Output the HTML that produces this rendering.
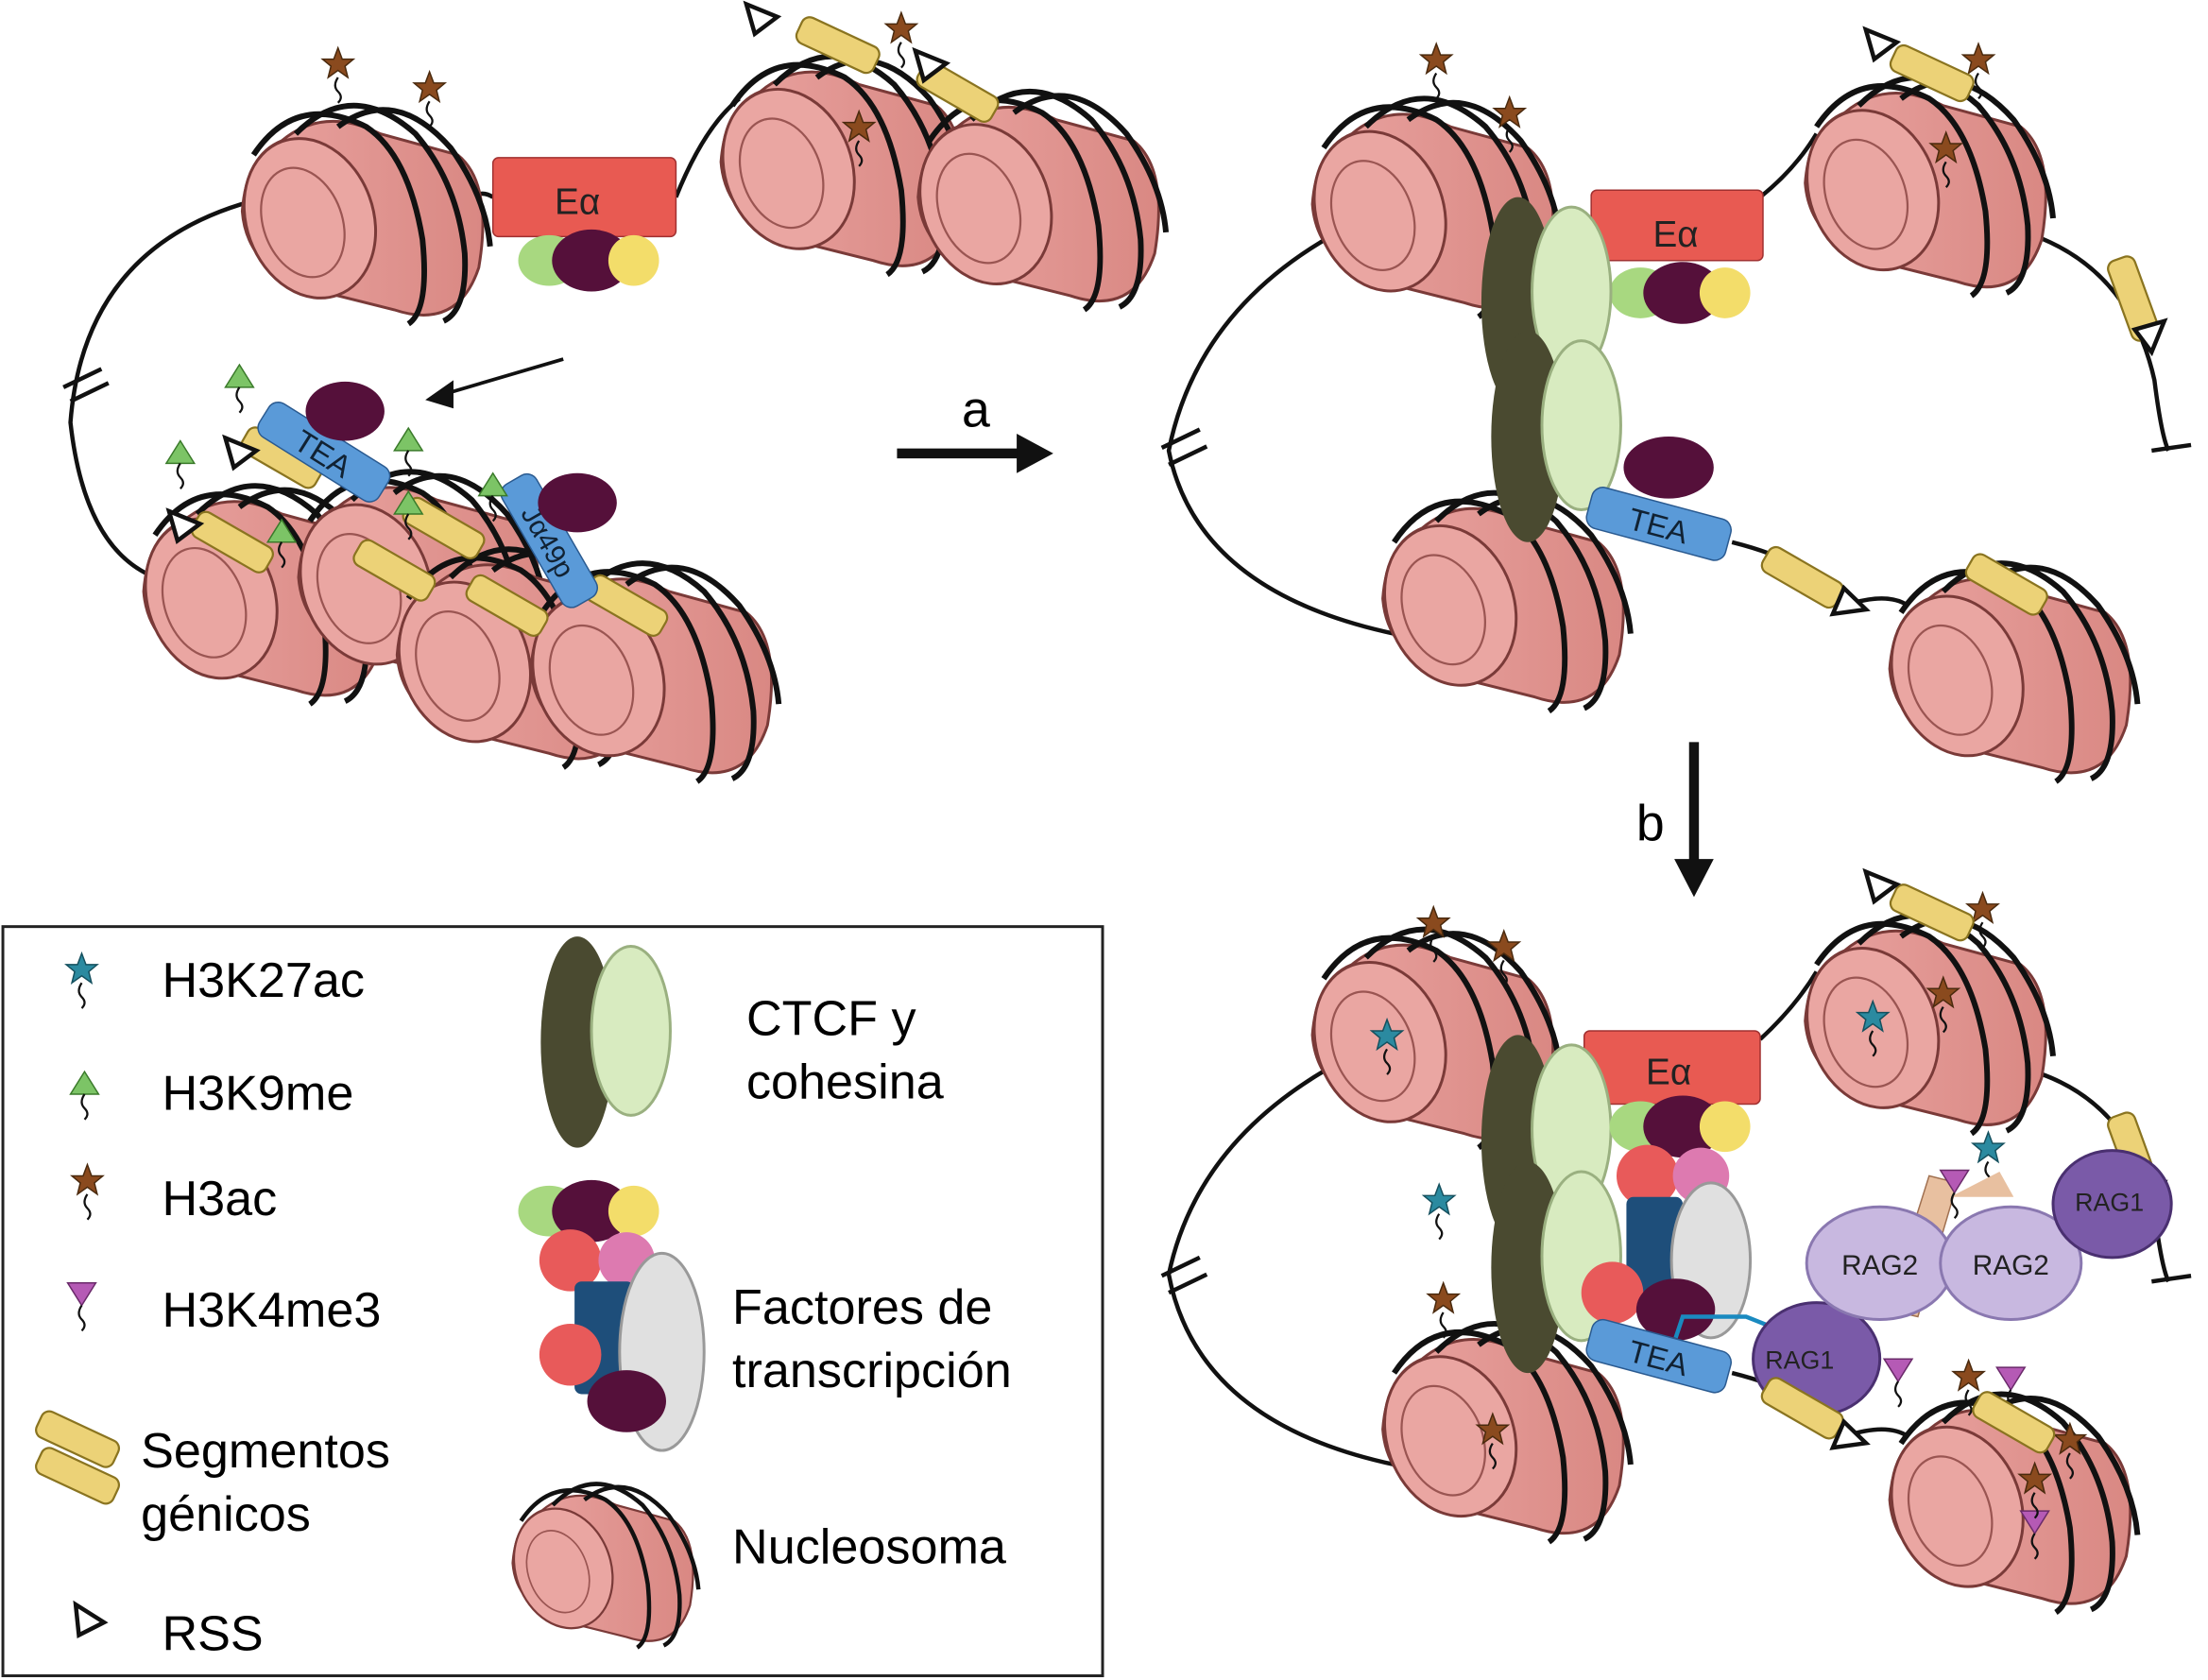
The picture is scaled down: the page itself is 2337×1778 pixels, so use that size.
<!DOCTYPE html>
<html><head><meta charset="utf-8"><style>
html,body{margin:0;padding:0;background:#fff;}
svg{display:block;}
text{font-family:"Liberation Sans",sans-serif;}
</style></head><body>
<svg width="2337" height="1778" viewBox="0 0 1568 1193" xmlns="http://www.w3.org/2000/svg">
<defs>
<linearGradient id="pk" x1="0" x2="1"><stop offset="0" stop-color="#e9a3a0"/><stop offset="1" stop-color="#d98883"/></linearGradient>
<g id="nuc">
  <path d="M-20,-50 Q10,-75 50,-55 L105,-40 Q130,-20 120,40 Q105,85 60,70 L0,55 Q-45,40 -48,0 Q-45,-40 -20,-50Z" fill="url(#pk)" stroke="#7a3a38" stroke-width="2"/>
  <ellipse cx="0" cy="5" rx="45" ry="58" transform="rotate(-20 0 5)" fill="#eaa6a2" stroke="#7a3a38" stroke-width="2"/>
  <ellipse cx="-5" cy="8" rx="28" ry="40" transform="rotate(-20 -5 8)" fill="none" stroke="#9a5552" stroke-width="1.5"/>
  <path d="M-40,-40 Q-10,-85 40,-60 Q70,-40 80,20 Q85,70 70,80" fill="none" stroke="#111" stroke-width="4"/>
  <path d="M-10,-55 Q30,-95 75,-55 Q105,-20 110,30 Q112,70 95,78" fill="none" stroke="#111" stroke-width="4"/>
  <path d="M20,-60 Q60,-90 100,-45 Q125,-10 128,25" fill="none" stroke="#111" stroke-width="4"/>
</g>
<g id="seg"><rect x="-30" y="-10" width="60" height="20" rx="6" fill="#ecd277" stroke="#8a7420" stroke-width="1.5"/></g>
<g id="rss"><polygon points="-10,-9 12,0 -4,12" fill="#fff" stroke="#111" stroke-width="3"/></g>
<g id="star"><polygon points="0,-11 3,-3 11,-3 5,2 7,10 0,5 -7,10 -5,2 -11,-3 -3,-3" fill="#8a4a1e" stroke="#4a2a0e" stroke-width="1"/><path d="M0,10 q-4,6 0,10 q4,4 0,8" fill="none" stroke="#111" stroke-width="1.5"/></g>
<g id="bstar"><polygon points="0,-11 3,-3 11,-3 5,2 7,10 0,5 -7,10 -5,2 -11,-3 -3,-3" fill="#2b8aa0" stroke="#15505e" stroke-width="1"/><path d="M0,10 q-4,6 0,10 q4,4 0,8" fill="none" stroke="#111" stroke-width="1.5"/></g>
<g id="gtri"><polygon points="0,-9 10,7 -10,7" fill="#7cc466" stroke="#3a7a2a"/><path d="M0,7 q-4,6 0,10 q4,4 0,8" fill="none" stroke="#111" stroke-width="1.5"/></g>
<g id="ptri"><polygon points="-10,-7 10,-7 0,9" fill="#b55ab5" stroke="#6a2a6a"/><path d="M0,9 q-4,6 0,10 q4,4 0,8" fill="none" stroke="#111" stroke-width="1.5"/></g>
<g id="ctcf"><ellipse cx="0" cy="0" rx="26" ry="75" fill="#4a4a30"/><ellipse cx="38" cy="-8" rx="28" ry="60" fill="#d8ebc0" stroke="#9ab080" stroke-width="2"/></g>
<g id="tf3"><ellipse cx="-30" cy="0" rx="22" ry="18" fill="#a8d880"/><ellipse cx="0" cy="0" rx="28" ry="22" fill="#55103a"/><circle cx="30" cy="0" r="18" fill="#f3dd6a"/></g>
</defs>

<!-- TOP LEFT PANEL -->
<path d="M190,140 Q60,170 50,300 Q60,390 110,410" fill="none" stroke="#111" stroke-width="3"/>
<path d="M320,160 Q335,130 350,140" fill="none" stroke="#111" stroke-width="3"/>
<path d="M480,140 Q500,90 525,70" fill="none" stroke="#111" stroke-width="3"/>
<line x1="45" y1="275" x2="72" y2="262" stroke="#111" stroke-width="3"/><line x1="50" y1="285" x2="77" y2="272" stroke="#111" stroke-width="3"/>
<use href="#nuc" x="220" y="150"/>
<use href="#nuc" x="560" y="115"/>
<use href="#nuc" x="700" y="140"/>
<rect x="350" y="112" width="130" height="56" rx="4" fill="#e85a52" stroke="#a03030"/>
<text x="410" y="152" font-size="26" text-anchor="middle" fill="#222">Eα</text>
<use href="#tf3" x="420" y="185"/>
<use href="#star" x="240" y="45"/><use href="#star" x="305" y="62"/><use href="#star" x="640" y="20"/><use href="#star" x="610" y="90"/>
<use href="#seg" transform="translate(595,32) rotate(25)"/><use href="#seg" transform="translate(680,65) rotate(30)"/>
<use href="#rss" x="540" y="12"/><use href="#rss" x="660" y="45"/>
<use href="#nuc" x="150" y="420"/>
<use href="#nuc" x="260" y="410"/>
<use href="#nuc" x="330" y="465"/>
<use href="#nuc" x="425" y="475"/>
<use href="#seg" transform="translate(165,385) rotate(30)"/><use href="#seg" transform="translate(200,325) rotate(30)"/>
<use href="#seg" transform="translate(315,375) rotate(30)"/><use href="#seg" transform="translate(280,405) rotate(30)"/>
<use href="#seg" transform="translate(360,430) rotate(30)"/><use href="#seg" transform="translate(445,430) rotate(30)"/>
<rect x="180" y="307" width="100" height="28" rx="8" transform="rotate(32 230 321)" fill="#5a9ad8" stroke="#2a5a90"/>
<text x="230" y="330" font-size="22" text-anchor="middle" transform="rotate(32 230 321)" fill="#123">TEA</text>
<rect x="340" y="370" width="100" height="28" rx="8" transform="rotate(60 390 384)" fill="#5a9ad8" stroke="#2a5a90"/>
<text x="390" y="392" font-size="20" text-anchor="middle" transform="rotate(60 390 384)" fill="#123">Jα49p</text>
<ellipse cx="245" cy="292" rx="28" ry="21" fill="#55103a"/>
<ellipse cx="410" cy="357" rx="28" ry="21" fill="#55103a"/>
<use href="#gtri" x="170" y="268"/><use href="#gtri" x="128" y="322"/><use href="#gtri" x="290" y="313"/><use href="#gtri" x="200" y="378"/><use href="#gtri" x="350" y="345"/><use href="#gtri" x="290" y="358"/>
<use href="#rss" x="170" y="320"/><use href="#rss" x="130" y="372"/>
<line x1="400" y1="255" x2="315" y2="280" stroke="#111" stroke-width="2.5"/><polygon points="302,284 322,270 322,290" fill="#111"/>

<!-- arrow a -->
<line x1="637" y1="322" x2="725" y2="322" stroke="#111" stroke-width="7"/><polygon points="748,322 722,308 722,336" fill="#111"/>
<text x="693" y="303" font-size="36" text-anchor="middle">a</text>

<!-- TOP RIGHT PANEL -->
<path d="M950,165 Q850,220 830,320 Q850,420 990,450" fill="none" stroke="#111" stroke-width="3"/>
<line x1="825" y1="318" x2="852" y2="305" stroke="#111" stroke-width="3"/><line x1="830" y1="330" x2="857" y2="317" stroke="#111" stroke-width="3"/>
<path d="M1250,140 Q1275,120 1290,95" fill="none" stroke="#111" stroke-width="3"/>
<path d="M1420,160 Q1510,180 1530,270 Q1535,310 1540,320" fill="none" stroke="#111" stroke-width="3"/>
<line x1="1528" y1="320" x2="1556" y2="316" stroke="#111" stroke-width="3"/>
<path d="M1230,385 Q1290,400 1310,430 Q1340,420 1355,430" fill="none" stroke="#111" stroke-width="3"/>
<use href="#nuc" x="980" y="145"/>
<use href="#nuc" x="1330" y="130"/>
<use href="#nuc" x="1030" y="425"/>
<use href="#nuc" x="1390" y="475"/>
<use href="#star" x="1020" y="42"/><use href="#star" x="1072" y="80"/><use href="#star" x="1405" y="42"/><use href="#star" x="1382" y="105"/>
<use href="#seg" transform="translate(1372,52) rotate(25)"/><use href="#rss" x="1335" y="30"/>
<use href="#seg" transform="translate(1515,212) rotate(70)"/><use href="#rss" transform="translate(1528,238) rotate(90)"/>
<rect x="1130" y="135" width="122" height="50" rx="4" fill="#e85a52" stroke="#a03030"/>
<text x="1190" y="175" font-size="26" text-anchor="middle" fill="#222">Eα</text>
<use href="#tf3" x="1195" y="208"/>
<use href="#ctcf" x="1078" y="215"/>
<use href="#ctcf" x="1085" y="310"/>
<ellipse cx="1185" cy="332" rx="32" ry="22" fill="#55103a"/>
<rect x="1127" y="357" width="102" height="30" rx="8" transform="rotate(15 1178 372)" fill="#5a9ad8" stroke="#2a5a90"/>
<text x="1178" y="381" font-size="22" text-anchor="middle" transform="rotate(15 1178 372)" fill="#123">TEA</text>
<use href="#seg" transform="translate(1280,410) rotate(30)"/><use href="#rss" transform="translate(1312,430) rotate(150)"/>
<use href="#seg" transform="translate(1425,415) rotate(30)"/>

<!-- arrow b -->
<line x1="1203" y1="527" x2="1203" y2="612" stroke="#111" stroke-width="7"/><polygon points="1203,637 1189,610 1217,610" fill="#111"/>
<text x="1172" y="597" font-size="36" text-anchor="middle">b</text>

<!-- BOTTOM RIGHT PANEL -->
<path d="M950,755 Q850,810 830,905 Q850,1010 990,1040" fill="none" stroke="#111" stroke-width="3"/>
<line x1="825" y1="906" x2="852" y2="893" stroke="#111" stroke-width="3"/><line x1="830" y1="918" x2="857" y2="905" stroke="#111" stroke-width="3"/>
<path d="M1250,738 Q1275,715 1290,690" fill="none" stroke="#111" stroke-width="3"/>
<path d="M1420,755 Q1510,770 1530,860 Q1535,900 1540,910" fill="none" stroke="#111" stroke-width="3"/>
<line x1="1528" y1="910" x2="1556" y2="906" stroke="#111" stroke-width="3"/>
<path d="M1230,975 Q1290,990 1310,1020 Q1340,1010 1355,1020" fill="none" stroke="#111" stroke-width="3"/>
<use href="#nuc" x="980" y="735"/>
<use href="#nuc" x="1330" y="725"/>
<use href="#nuc" x="1030" y="1015"/>
<use href="#nuc" x="1390" y="1065"/>
<use href="#star" x="1018" y="655"/><use href="#star" x="1068" y="672"/><use href="#star" x="1408" y="645"/><use href="#star" x="1380" y="705"/>
<use href="#bstar" x="985" y="735"/><use href="#bstar" x="1330" y="722"/><use href="#bstar" x="1022" y="852"/><use href="#bstar" x="1412" y="815"/>
<use href="#star" x="1025" y="922"/><use href="#star" x="1060" y="1015"/>
<use href="#seg" transform="translate(1372,648) rotate(25)"/><use href="#rss" x="1335" y="628"/>
<use href="#seg" transform="translate(1515,820) rotate(70)"/><use href="#rss" transform="translate(1528,850) rotate(90)"/>
<rect x="1125" y="732" width="125" height="52" rx="4" fill="#e85a52" stroke="#a03030"/>
<text x="1185" y="770" font-size="26" text-anchor="middle" fill="#222">Eα</text>
<use href="#ctcf" x="1078" y="810"/>
<use href="#ctcf" x="1085" y="900"/>
<use href="#tf3" x="1195" y="800"/>
<circle cx="1170" cy="835" r="22" fill="#e85a5a"/><circle cx="1208" cy="835" r="20" fill="#dd7ab0"/>
<rect x="1155" y="850" width="40" height="75" rx="5" fill="#1e4e7a"/>
<ellipse cx="1215" cy="895" rx="28" ry="55" fill="#e0e0e0" stroke="#999" stroke-width="2"/>
<circle cx="1145" cy="918" r="22" fill="#e85a5a"/><ellipse cx="1190" cy="930" rx="28" ry="22" fill="#55103a"/>
<rect x="1127" y="948" width="102" height="30" rx="8" transform="rotate(15 1178 963)" fill="#5a9ad8" stroke="#2a5a90"/>
<text x="1178" y="972" font-size="22" text-anchor="middle" transform="rotate(15 1178 963)" fill="#123">TEA</text>
<path d="M1190,950 L1195,935 L1240,935 L1290,955" fill="none" stroke="#1a8ac0" stroke-width="3"/>
<polygon points="1300,958 1285,948 1285,966" fill="#1a8ac0"/>
<polygon points="1340,930 1370,835 1390,840 1362,935" fill="#e8c0a0" stroke="#a07050"/>
<polygon points="1385,850 1420,832 1430,850" fill="#e8c0a0"/>
<ellipse cx="1290" cy="965" rx="45" ry="40" fill="#7a5aa8" stroke="#4a3070" stroke-width="2"/>
<text x="1278" y="972" font-size="18" text-anchor="middle" fill="#222">RAG1</text>
<ellipse cx="1335" cy="897" rx="52" ry="40" fill="#c8b8e0" stroke="#8a78b0" stroke-width="2"/>
<text x="1335" y="905" font-size="20" text-anchor="middle" fill="#222">RAG2</text>
<ellipse cx="1428" cy="897" rx="50" ry="40" fill="#c8b8e0" stroke="#8a78b0" stroke-width="2"/>
<text x="1428" y="905" font-size="20" text-anchor="middle" fill="#222">RAG2</text>
<ellipse cx="1500" cy="855" rx="42" ry="38" fill="#7a5aa8" stroke="#4a3070" stroke-width="2"/>
<text x="1498" y="860" font-size="18" text-anchor="middle" fill="#222">RAG1</text>
<use href="#ptri" x="1388" y="838"/><use href="#ptri" x="1348" y="972"/><use href="#ptri" x="1428" y="978"/><use href="#ptri" x="1445" y="1080"/>
<use href="#star" x="1398" y="977"/><use href="#star" x="1470" y="1022"/><use href="#star" x="1445" y="1050"/>
<use href="#seg" transform="translate(1280,1000) rotate(30)"/><use href="#rss" transform="translate(1312,1022) rotate(150)"/>
<use href="#seg" transform="translate(1430,1010) rotate(30)"/>

<!-- LEGEND -->
<rect x="2" y="658" width="781" height="532" fill="#fff" stroke="#222" stroke-width="2"/>
<use href="#bstar" x="58" y="688"/><text x="115" y="708" font-size="35">H3K27ac</text>
<use href="#gtri" x="60" y="770"/><text x="115" y="788" font-size="35">H3K9me</text>
<use href="#star" x="62" y="838"/><text x="115" y="863" font-size="35">H3ac</text>
<use href="#ptri" x="58" y="918"/><text x="115" y="942" font-size="35">H3K4me3</text>
<use href="#seg" transform="translate(55,1022) rotate(25)"/><use href="#seg" transform="translate(55,1048) rotate(25)"/>
<text x="100" y="1042" font-size="35">Segmentos</text><text x="100" y="1087" font-size="35">génicos</text>
<use href="#rss" transform="translate(62,1150) rotate(10)"/><text x="115" y="1172" font-size="35">RSS</text>
<use href="#ctcf" x="410" y="740"/>
<text x="530" y="735" font-size="35">CTCF y</text><text x="530" y="780" font-size="35">cohesina</text>
<use href="#tf3" x="420" y="860"/>
<circle cx="405" cy="895" r="22" fill="#e85a5a"/><circle cx="445" cy="895" r="20" fill="#dd7ab0"/>
<rect x="408" y="910" width="42" height="80" rx="5" fill="#1e4e7a"/>
<ellipse cx="470" cy="960" rx="30" ry="70" fill="#e0e0e0" stroke="#999" stroke-width="2"/>
<circle cx="405" cy="962" r="22" fill="#e85a5a"/><ellipse cx="445" cy="995" rx="28" ry="22" fill="#55103a"/>
<text x="520" y="940" font-size="35">Factores de</text><text x="520" y="985" font-size="35">transcripción</text>
<use href="#nuc" transform="translate(400,1110) scale(0.75)"/>
<text x="520" y="1110" font-size="35">Nucleosoma</text>
</svg>
</body></html>
